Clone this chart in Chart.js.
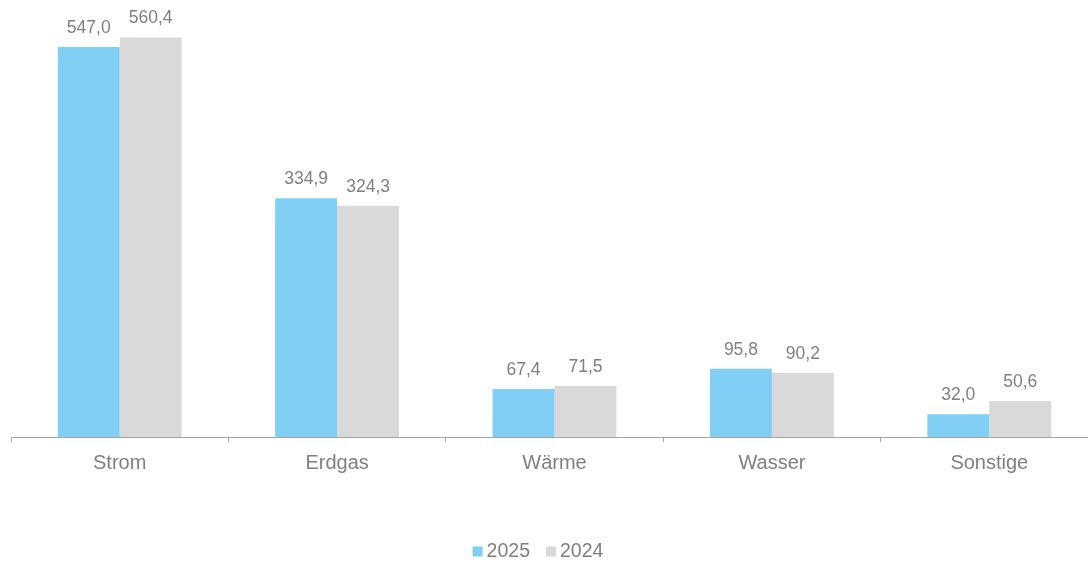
<!DOCTYPE html>
<html>
<head>
<meta charset="utf-8">
<script src="https://cdn.jsdelivr.net/npm/chart.js@4/dist/chart.umd.min.js"></script>
<style>
  html, body { margin: 0; padding: 0; background: #fff; overflow: hidden; }
  /* a bit wider than the window: the last category runs past the right edge */
  #wrap { width: 1098px; height: 563px; }
</style>
</head>
<body>
<div id="wrap"><canvas id="chartOne"></canvas></div>
<script>
const categories = ['Strom', 'Erdgas', 'Wärme', 'Wasser', 'Sonstige'];
const values2025 = [547.0, 334.9, 67.4, 95.8, 32.0];
const values2024 = [560.4, 324.3, 71.5, 90.2, 50.6];
const seriesLabels = ['2025', '2024'];
const seriesColors = ['#82cff5', '#d9d9d9'];

const textGray = '#7f7f7f';
const fontFamily = 'Arial, "Liberation Sans", sans-serif';

// value labels above each bar, German decimal comma
const barValueLabels = {
    id: 'barValueLabels',
    afterDatasetsDraw(chart) {
        const ctx = chart.ctx;
        ctx.save();
        ctx.font = '17.5px ' + fontFamily;
        ctx.fillStyle = textGray;
        ctx.textAlign = 'center';
        ctx.textBaseline = 'middle';
        chart.data.datasets.forEach((ds, i) => {
            chart.getDatasetMeta(i).data.forEach((bar, j) => {
                const txt = ds.data[j].toFixed(1).replace('.', ',');
                ctx.fillText(txt, bar.x, bar.y - 19);
            });
        });
        ctx.restore();
    }
};

// compact legend (small box, tight gap) like the original
const compactLegend = {
    id: 'compactLegend',
    afterDraw(chart) {
        const ctx = chart.ctx;
        const box = 10, gap = 4, itemGap = 16, cy = 551.5;
        ctx.save();
        ctx.font = '19.5px ' + fontFamily;
        ctx.textBaseline = 'middle';
        const items = chart.data.datasets.map(ds => ({
            text: ds.label, color: ds.backgroundColor, w: ctx.measureText(ds.label).width
        }));
        let total = items.reduce((s, it) => s + box + gap + it.w, 0) + itemGap * (items.length - 1);
        let x = 538 - total / 2;
        items.forEach(it => {
            ctx.fillStyle = it.color;
            ctx.fillRect(x, cy - box / 2, box, box);
            x += box + gap;
            ctx.fillStyle = textGray;
            ctx.fillText(it.text, x, cy);
            x += it.w + itemGap;
        });
        ctx.restore();
    }
};

const chartOne = new Chart(document.getElementById('chartOne'), {
    type: 'bar',
    data: {
        labels: categories,
        datasets: [{
            label: seriesLabels[0],
            data: values2025,
            backgroundColor: seriesColors[0],
            categoryPercentage: 0.57,
            barPercentage: 1.0
        }, {
            label: seriesLabels[1],
            data: values2024,
            backgroundColor: seriesColors[1],
            categoryPercentage: 0.57,
            barPercentage: 1.0
        }]
    },
    options: {
        responsive: true,
        maintainAspectRatio: false,
        animation: false,
        layout: { padding: { left: 11, right: 0, top: 0, bottom: 0 } },
        plugins: {
            tooltip: { enabled: false },
            legend: { display: false }
        },
        scales: {
            x: {
                // reserve room below the axis for labels and the legend
                afterFit(scale) { scale.height = 126; },
                grid: {
                    offset: true,
                    drawOnChartArea: false,
                    drawTicks: true,
                    tickLength: 5,
                    color: '#a6a6a6'
                },
                border: { color: '#a6a6a6', width: 1 },
                ticks: {
                    color: textGray,
                    padding: 9,
                    font: { size: 20, family: fontFamily }
                }
            },
            y: {
                display: false,
                min: 0,
                max: 613
            }
        }
    },
    plugins: [barValueLabels, compactLegend]
});
</script>
</body>
</html>
